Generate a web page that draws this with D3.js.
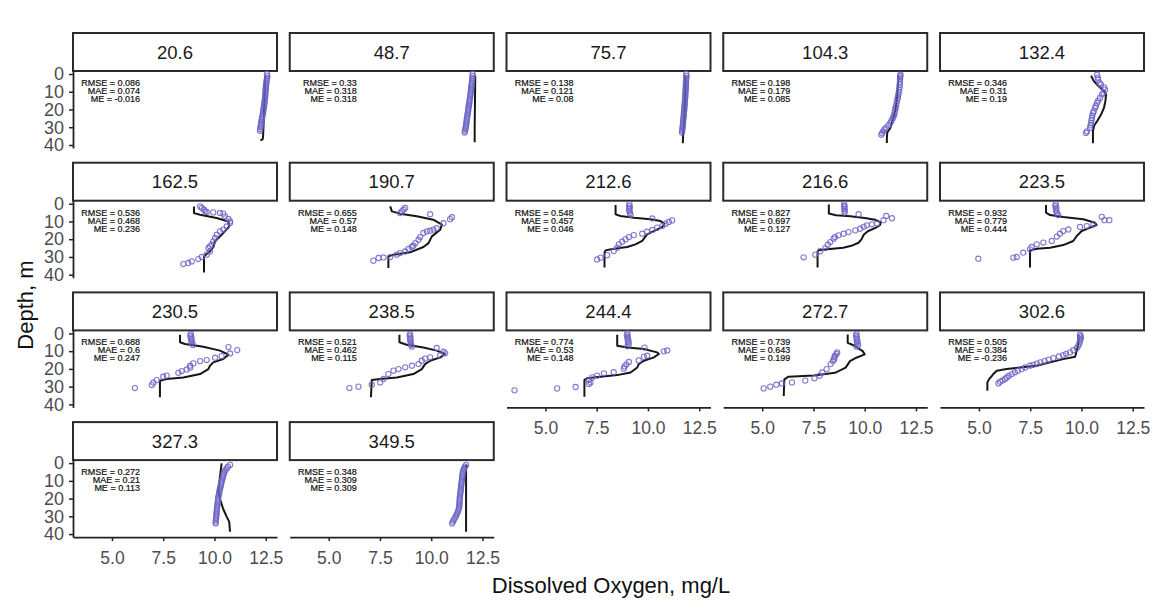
<!DOCTYPE html>
<html>
<head>
<meta charset="utf-8">
<script src="https://cdn.jsdelivr.net/npm/d3@7"></script>
<style>
  body { margin: 0; background: #fff; }
  svg { display: block; font-family: "Liberation Sans", Arial, sans-serif; }
</style>
</head>
<body>
<svg id="chart" width="1162" height="601"></svg>
<script>
// facet labels (day) and fit statistics
const days = ["20.6", "48.7", "75.7", "104.3", "132.4", "162.5", "190.7", "212.6", "216.6",
  "223.5", "230.5", "238.5", "244.4", "272.7", "302.6", "327.3", "349.5"]
const rmse = ["0.086", "0.33", "0.138", "0.198", "0.346", "0.536", "0.655", "0.548", "0.827",
  "0.932", "0.688", "0.521", "0.774", "0.739", "0.505", "0.272", "0.348"]
const mae = ["0.074", "0.318", "0.121", "0.179", "0.31", "0.468", "0.57", "0.457", "0.697",
  "0.779", "0.6", "0.462", "0.53", "0.643", "0.384", "0.21", "0.309"]
const me = ["-0.016", "0.318", "0.08", "0.085", "0.19", "0.236", "0.148", "0.046", "0.127",
  "0.444", "0.247", "0.115", "0.148", "0.199", "-0.236", "0.113", "0.309"]

const xTicks = [5, 7.5, 10, 12.5]
const yTicks = [0, 10, 20, 30, 40]

// modelled profiles: [depth m, DO mg/L]
const modelProfiles = [
  [[1,12.47],[10,12.45],[20,12.42],[30,12.39],[35,12.37],[36.8,12.35],[37.4,12.24]],
  [[0.8,12.15],[10,12.14],[20,12.13],[30,12.12],[38.5,12.12]],
  [[0.5,11.76],[2,11.83],[10,11.82],[20,11.79],[30,11.74],[35,11.71],[39,11.7]],
  [[0.7,11.64],[12,11.59],[20,11.5],[23,11.44],[27,11.33],[30.4,11.25],[33,11.1],[36,11.08],[38.9,11.08]],
  [[1,10.47],[4,10.6],[7,10.85],[9,11.05],[11.6,11.2],[15,11.17],[19,11.1],[23,10.95],[26.6,10.76],[29,10.62],[32,10.56],[39,10.56]],
  [[1.5,9.0],[5.3,9.0],[6.2,9.3],[8.1,10.1],[10,10.68],[12.8,10.72],[15,10.55],[17.5,10.35],[21.2,10.03],[24.4,9.95],[26.9,9.78],[28.5,9.6],[29.7,9.49],[31.6,9.49],[38.7,9.49]],
  [[1.5,8.0],[4.3,8.08],[5.6,8.48],[7.1,9.3],[9,10.1],[11.8,10.52],[14.6,10.44],[18.4,10.03],[22.2,9.87],[24.4,9.62],[27.4,8.97],[28.7,8.16],[29.7,7.91],[36.2,7.91]],
  [[0.7,8.42],[6,8.42],[6.9,8.66],[7.9,9.31],[8.8,10.12],[9.8,10.61],[11.3,10.81],[13.1,10.7],[15.4,10.29],[17.3,9.96],[21,9.72],[22.9,9.39],[24.4,8.99],[25.4,8.33],[26.3,7.93],[27.6,7.88],[36,7.88]],
  [[0.5,8.25],[5.5,8.25],[6.5,8.6],[7,9.3],[8,10.0],[9,10.5],[10.5,10.78],[12,10.75],[13.5,10.55],[15.5,10.15],[17.5,9.95],[20,9.85],[22,9.7],[23.5,9.4],[24.8,8.95],[25.5,8.3],[26.2,7.75],[27,7.7],[36,7.7]],
  [[0.7,8.27],[5,8.27],[6.4,8.47],[7.5,9.11],[8.8,10.09],[10.7,10.66],[12,10.74],[13.5,10.42],[15.4,10.01],[18.2,9.77],[21,9.6],[23.3,9.11],[24.8,8.47],[25.4,7.82],[26.3,7.49],[36,7.49]],
  [[0.7,8.32],[5,8.32],[6,8.56],[7.5,9.46],[9.7,10.27],[12,10.68],[14.4,10.43],[16.3,9.94],[18.2,9.78],[20.1,9.7],[22.9,9.3],[24.8,8.48],[25.7,7.67],[26.7,7.34],[36,7.34]],
  [[0.7,8.45],[5,8.45],[6.4,8.8],[7.9,9.62],[9.7,10.27],[11.6,10.68],[13.5,10.44],[15.4,9.95],[17.3,9.7],[20.1,9.54],[22.9,9.13],[24.8,8.32],[25.7,7.51],[26.3,7.1],[36,7.06]],
  [[0.7,8.5],[6.9,8.5],[7.9,8.99],[8.8,9.8],[10.7,10.45],[11.6,10.53],[13.5,10.29],[15.4,9.8],[17.3,9.55],[19.2,9.48],[22,9.15],[23.5,8.5],[24.4,7.69],[25.2,7.04],[26.3,6.9],[35.7,6.9]],
  [[0.6,9.17],[5.3,9.17],[6.8,9.48],[10,9.9],[11.8,10.0],[13.7,9.59],[15.6,9.28],[19.3,9.07],[22.2,8.55],[23.7,7.52],[24.4,6.28],[25.9,6.08],[35.3,6.05]],
  [[0.7,9.85],[6,9.85],[9.7,9.77],[13.1,9.69],[14.5,9.11],[16.3,8.47],[18.2,7.82],[19.2,7.0],[20.1,6.35],[21,5.87],[22.9,5.7],[25.7,5.5],[27.6,5.41],[32.3,5.41]],
  [[0.2,10.35],[7.5,10.27],[15,10.19],[20.3,10.27],[26,10.43],[30.3,10.6],[33.1,10.72],[38.7,10.76]],
  [[0.9,11.7],[38.7,11.7]]
]

// observed profiles: [depth m, DO mg/L]
const obsProfiles = [
  [[0,12.56],[1,12.58],[2,12.57],[3,12.55],[4,12.54],[5,12.53],[6,12.52],[7,12.51],[8,12.5],[9,12.5],[10,12.49],[11,12.48],[12,12.48],[13,12.47],[14,12.46],[15,12.45],[16,12.44],[17,12.43],[18,12.42],[19,12.4],[20,12.39],[21,12.38],[22,12.37],[23,12.35],[24,12.33],[25,12.32],[26,12.3],[27,12.29],[28,12.27],[29,12.26],[30,12.25],[31,12.23],[32,12.22]],
  [[0,12.02],[1,12.02],[2,12.01],[3,12.0],[4,11.99],[5,11.98],[6,11.97],[7,11.96],[8,11.95],[9,11.94],[10,11.93],[11,11.92],[12,11.91],[13,11.9],[14,11.88],[15,11.87],[16,11.86],[17,11.85],[18,11.83],[19,11.82],[20,11.81],[21,11.8],[22,11.78],[23,11.77],[24,11.76],[25,11.74],[26,11.73],[27,11.72],[28,11.71],[29,11.7],[30,11.68],[31,11.67],[32,11.65],[33,11.63]],
  [[0,11.87],[1,11.88],[2,11.87],[3,11.86],[4,11.86],[5,11.85],[6,11.85],[7,11.85],[8,11.84],[9,11.84],[10,11.83],[11,11.83],[12,11.82],[13,11.82],[14,11.81],[15,11.8],[16,11.8],[17,11.79],[18,11.78],[19,11.78],[20,11.77],[21,11.76],[22,11.75],[23,11.75],[24,11.74],[25,11.73],[26,11.72],[27,11.71],[28,11.71],[29,11.7],[30,11.69],[31,11.68],[32,11.67],[33,11.66]],
  [[0.3,11.75],[1.1,11.73],[2,11.73],[3,11.72],[4.5,11.72],[6,11.71],[7.5,11.7],[9,11.68],[10.3,11.66],[11.6,11.64],[13,11.62],[14,11.6],[15.5,11.57],[17.3,11.54],[18.7,11.51],[20,11.49],[21.5,11.46],[22.9,11.44],[24,11.4],[25,11.37],[26.3,11.31],[27.6,11.25],[29,11.15],[30.4,11.03],[31.3,10.96],[32.3,10.9],[33.4,10.85],[34.2,10.81]],
  [[0.4,10.76],[2,10.79],[3.2,10.81],[5,10.88],[6,10.95],[7.5,11.1],[8.8,11.15],[10.5,11.07],[11.6,11.0],[13.5,10.9],[15,10.82],[16.3,10.76],[18,10.7],[19.2,10.66],[21,10.6],[22,10.56],[23.5,10.53],[24.8,10.51],[26,10.49],[27.6,10.47],[29,10.44],[30.4,10.42],[32.3,10.27],[33.2,10.22]],
  [[1.5,9.3],[2.4,9.38],[3.4,9.49],[4.3,9.55],[4.6,9.62],[4.9,9.94],[5.2,10.27],[5.6,10.43],[7.1,10.51],[8.6,10.68],[10,10.76],[10.9,10.76],[12.8,10.6],[14.6,10.43],[15.6,10.27],[17.5,10.11],[19.3,10.03],[21.2,9.94],[23.1,9.87],[24,9.78],[25,9.7],[26.9,9.78],[28.7,9.62],[30,9.38],[31.2,9.21],[32.5,8.89],[33.4,8.72],[34,8.48]],
  [[2.4,8.73],[3.4,8.65],[4.3,8.57],[5.3,8.48],[5.9,9.95],[7.6,11.01],[8.7,10.92],[11,10.6],[13.8,10.27],[14.6,10.11],[15.2,9.95],[15.6,9.79],[16.5,9.62],[18.8,9.46],[20.3,9.38],[22.2,9.22],[23.7,9.13],[24.4,9.05],[25.5,8.89],[26.9,8.73],[27.8,8.48],[28.7,8.32],[30.1,8.0],[30.3,7.67],[30.6,7.43],[32.1,7.18]],
  [[0.2,9.1],[1.2,9.08],[2.2,9.12],[3.2,9.08],[4.2,9.1],[5.2,9.12],[6.3,9.15],[8.3,10.21],[9.4,11.18],[10.3,11.02],[11.3,10.86],[12.6,10.7],[13.5,10.45],[14.8,10.21],[15.8,9.96],[16.9,9.72],[17.7,9.31],[18.8,9.07],[20.1,8.9],[21.4,8.74],[22.9,8.58],[24.8,8.5],[26.7,8.33],[29,8.01],[30.4,7.69],[31.4,7.52]],
  [[0.3,9.0],[1.2,9.0],[2,9.02],[3,9.0],[4,9.03],[5,9.02],[5.9,9.7],[6.9,11.05],[8.2,11.33],[9.3,10.92],[11.2,10.6],[11.6,10.35],[12.2,10.1],[13,9.95],[14.1,9.78],[15,9.54],[16,9.21],[16.9,8.97],[17.8,8.72],[18.8,8.55],[19.7,8.48],[21.6,8.32],[23.1,8.2],[25,8.08],[26.8,7.83],[28.7,7.59],[30.2,7.02]],
  [[0.3,8.75],[1.3,8.72],[2.3,8.78],[3.3,8.75],[4.3,8.78],[5.3,8.8],[6.4,8.86],[7.4,10.99],[9.3,11.12],[9.3,11.36],[11.6,10.58],[12.6,10.26],[13.1,9.93],[14.5,9.36],[15.4,9.11],[16.9,8.95],[18.5,8.8],[21,8.55],[21.9,8.14],[22.9,7.82],[24.4,7.57],[25.7,7.49],[27.6,7.16],[30,6.84],[30.4,6.68],[31,4.97]],
  [[0.3,8.85],[1.3,8.82],[2.3,8.88],[3.3,8.85],[4.3,8.9],[5.3,8.88],[6.5,8.95],[7.7,10.68],[9.4,11.11],[11.3,10.76],[12.8,10.35],[13.7,10.03],[15,9.62],[15.6,9.3],[16.9,8.97],[18.2,8.81],[19.3,8.81],[20.3,8.65],[21.2,8.4],[22.2,8.24],[23.8,7.67],[24.4,7.5],[26.3,7.18],[27.8,7.02],[29.1,6.94],[30.8,6.12]],
  [[0.3,8.97],[1.3,8.95],[2.3,8.99],[3.3,8.97],[4.3,9.0],[5.3,8.99],[6.5,9.02],[7.5,9.06],[8.2,10.27],[10.3,10.6],[11.2,10.68],[12.4,10.44],[13.5,9.95],[14.2,9.7],[15.4,9.54],[17.3,9.38],[18.2,9.06],[19.1,8.73],[20.1,8.4],[21,8.16],[22.9,7.91],[25.7,7.67],[27.6,7.51],[28.9,7.1],[30,6.45],[30.8,6.01]],
  [[0,9.0],[1,8.97],[2,9.02],[3,9.0],[4,9.05],[5,9.02],[6,9.07],[7.3,9.0],[8,9.83],[9.6,10.94],[10.1,10.77],[12.6,9.96],[13.2,9.8],[15.2,9.55],[16.1,9.07],[17.4,8.95],[18.6,8.86],[19.9,8.82],[21.9,8.33],[22.5,7.85],[23.8,7.52],[24.8,7.28],[26.3,7.12],[27.6,7.2],[28.5,7.12],[30.2,6.47],[31,5.57],[32.1,3.49]],
  [[0.3,9.6],[1.3,9.58],[2.3,9.62],[3.3,9.6],[4.3,9.65],[5.3,9.62],[6.5,9.68],[7.5,9.6],[10.7,8.66],[11.6,8.62],[12.6,8.55],[13.5,8.52],[14.5,8.51],[15.5,8.45],[17.3,8.34],[20.1,8.14],[22,7.93],[23.8,7.8],[25.2,7.55],[26.6,7.1],[27.6,6.45],[28.2,5.96],[28.9,5.69],[30,5.39],[31,5.07]],
  [[0.7,9.93],[1.5,9.96],[2.3,9.97],[3.2,9.95],[4.1,9.93],[5.5,9.9],[6.9,9.85],[8.3,9.77],[9.5,9.6],[10.7,9.44],[11.5,9.25],[12.2,9.11],[13,8.9],[13.9,8.63],[14.8,8.4],[15.6,8.2],[16.3,8.0],[17,7.82],[17.7,7.65],[18.2,7.49],[19.2,7.25],[20.1,7.08],[21,6.9],[21.9,6.75],[22.9,6.6],[24,6.45],[25,6.35],[25.7,6.27],[26.5,6.15],[27.2,6.03],[28.2,5.95]],
  [[1,10.76],[2,10.66],[3,10.6],[4,10.53],[5,10.49],[6,10.45],[7,10.43],[8,10.41],[9,10.38],[10,10.36],[11,10.34],[12,10.32],[13,10.3],[14,10.28],[15,10.26],[16,10.24],[17,10.23],[18,10.21],[19,10.19],[20,10.18],[21,10.17],[22,10.16],[23,10.15],[24,10.14],[25,10.13],[26,10.12],[27,10.11],[28,10.1],[29,10.1],[30,10.09],[31,10.08],[32,10.07],[33,10.06],[34,10.06]],
  [[1,11.7],[2,11.65],[3,11.6],[4,11.57],[5,11.55],[6,11.53],[7,11.52],[8,11.51],[9,11.5],[10,11.49],[11,11.48],[12,11.47],[13,11.46],[14,11.45],[15,11.44],[16,11.43],[17,11.42],[18,11.41],[19,11.4],[20,11.39],[21,11.39],[22,11.38],[23,11.38],[24,11.37],[25,11.36],[26,11.34],[27,11.31],[28,11.28],[29,11.24],[30,11.2],[31,11.15],[32,11.1],[33,11.06],[34,11.02]]
]

const width = 1162
const height = 601
const nCol = 5
const panelW = 204
const stripH = 38
const plotH = 77
const colX = c => 73 + c * 216.75
const rowY = r => 33 + r * 129.7

const x = d3.scaleLinear().domain([3.1, 13.05]).range([0, panelW])
const y = d3.scaleLinear().domain([-1.7, 41.7]).range([0, plotH])
const line = d3.line().x(d => x(d[1])).y(d => y(d[0]))

const svg = d3.select('#chart')
svg.append('rect').attr('width', width).attr('height', height).attr('fill', '#fff')

days.forEach((day, i) => {
  const c = i % nCol, r = Math.floor(i / nCol)
  const g = svg.append('g').attr('transform', `translate(${colX(c)},${rowY(r)})`)

  // strip
  g.append('rect')
    .attr('x', 0).attr('y', 0)
    .attr('width', panelW).attr('height', stripH)
    .attr('fill', '#fff').attr('stroke', '#2b2b2b').attr('stroke-width', 2)
  g.append('text')
    .attr('x', panelW / 2).attr('y', stripH / 2 + 6.5)
    .attr('text-anchor', 'middle')
    .attr('font-size', 18.5).attr('fill', '#1a1a1a')
    .text(day)

  const p = g.append('g').attr('transform', `translate(0,${stripH})`)

  // axes
  if (c === 0) {
    const ya = p.append('g').call(d3.axisLeft(y).tickValues(yTicks).tickSize(4).tickPadding(5).tickSizeOuter(0))
    ya.select('.domain').attr('stroke', '#222').attr('stroke-width', 1.8)
    ya.selectAll('.tick line').attr('stroke', '#222').attr('stroke-width', 1.5)
    ya.selectAll('.tick text').attr('font-size', 18).attr('fill', '#4d4d4d')
      .attr('font-family', '"Liberation Sans", Arial, sans-serif')
  }
  if (i + nCol >= days.length) {
    const xa = p.append('g').attr('transform', `translate(0,${plotH})`)
      .call(d3.axisBottom(x).tickValues(xTicks).tickFormat(d3.format('.1f')).tickSize(4).tickPadding(10).tickSizeOuter(0))
    xa.select('.domain').attr('stroke', '#222').attr('stroke-width', 1.8)
    xa.selectAll('.tick line').attr('stroke', '#222').attr('stroke-width', 1.5)
    xa.selectAll('.tick text').attr('font-size', 17.5).attr('fill', '#4d4d4d')
      .attr('font-family', '"Liberation Sans", Arial, sans-serif')
  }

  // stats annotation
  const stats = [['RMSE = ', rmse[i]], ['MAE = ', mae[i]], ['ME = ', me[i]]]
  p.selectAll('text.stat')
    .data(stats)
    .join('text')
    .attr('class', 'stat')
    .attr('x', 67)
    .attr('y', (d, k) => 15 + k * 8)
    .attr('text-anchor', 'end')
    .attr('font-size', 9)
    .attr('fill', '#111')
    .attr('stroke', '#111')
    .attr('stroke-width', 0.2)
    .text(d => d[0] + d[1])

  // model
  p.append('path')
    .datum(modelProfiles[i])
    .attr('d', line)
    .attr('fill', 'none')
    .attr('stroke', '#161616')
    .attr('stroke-width', 2)
    .attr('stroke-linejoin', 'round')

  // observations
  p.selectAll('circle')
    .data(obsProfiles[i])
    .join('circle')
    .attr('cx', d => x(d[1]))
    .attr('cy', d => y(d[0]))
    .attr('r', 2.6)
    .attr('fill', 'none')
    .attr('stroke', '#6b63c6')
    .attr('stroke-opacity', 0.85)
    .attr('stroke-width', 1.1)
})

// axis titles
svg.append('text')
  .attr('transform', `translate(33,305) rotate(-90)`)
  .attr('text-anchor', 'middle')
  .attr('font-size', 22)
  .attr('fill', '#111')
  .text('Depth, m')

svg.append('text')
  .attr('x', 611).attr('y', 593)
  .attr('text-anchor', 'middle')
  .attr('font-size', 22)
  .attr('fill', '#111')
  .text('Dissolved Oxygen, mg/L')
</script>
</body>
</html>
